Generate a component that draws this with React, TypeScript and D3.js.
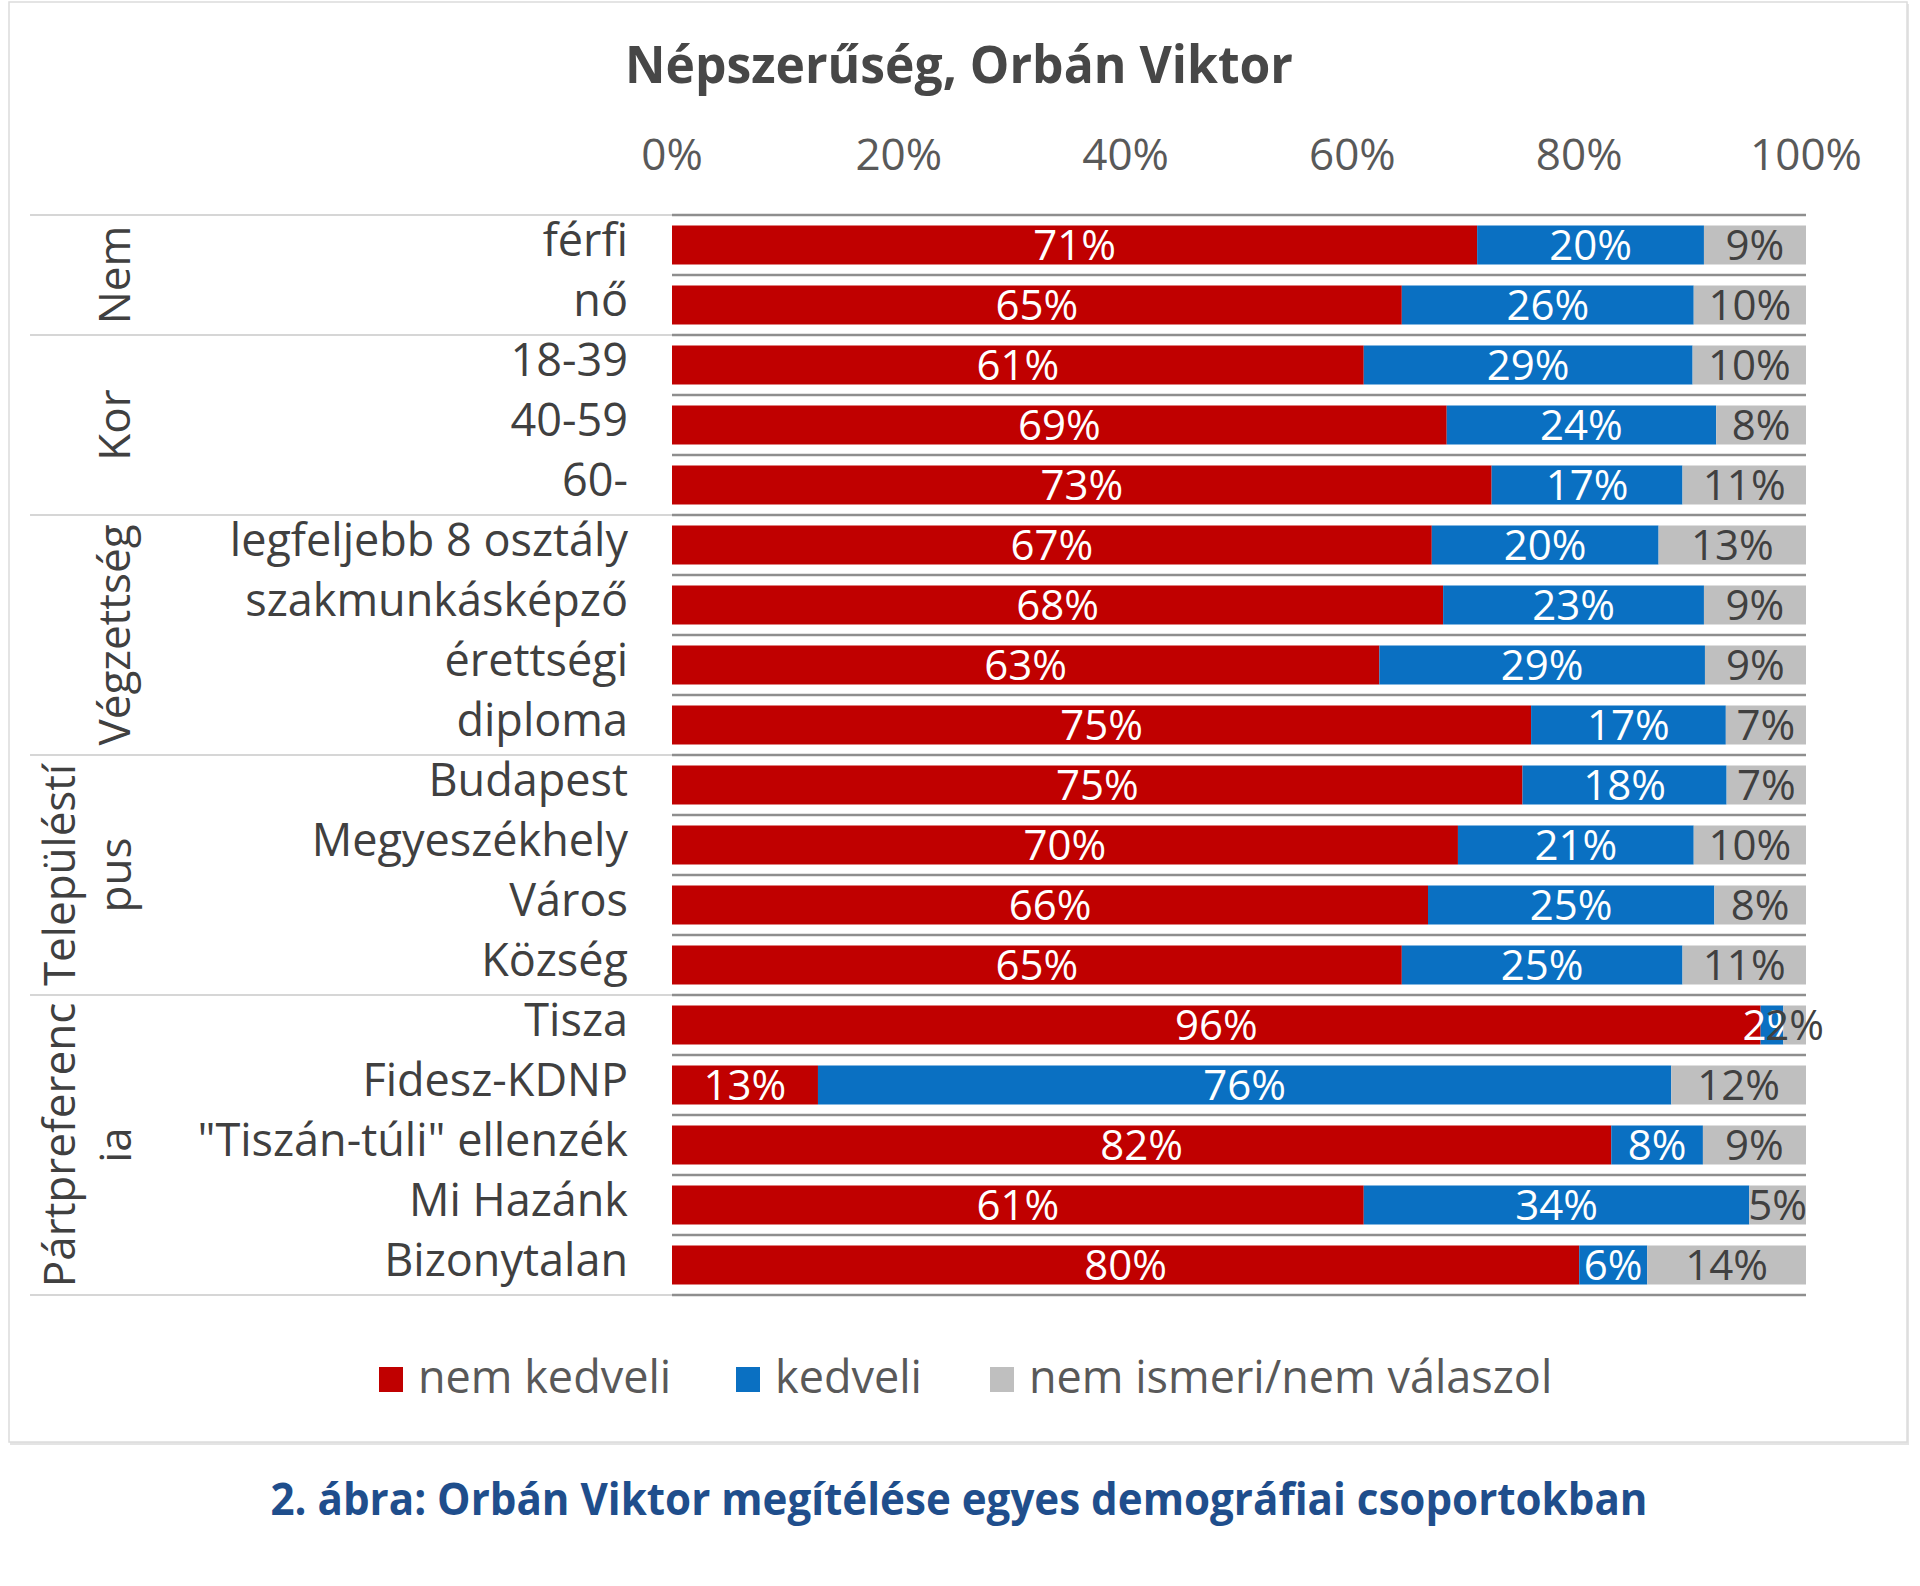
import React, { useEffect, useRef } from 'react';
import * as d3 from 'd3';

const categories = [
  'férfi', 'nő',
  '18-39', '40-59', '60-',
  'legfeljebb 8 osztály', 'szakmunkásképző', 'érettségi', 'diploma',
  'Budapest', 'Megyeszékhely', 'Város', 'Község',
  'Tisza', 'Fidesz-KDNP', '"Tiszán-túli" ellenzék', 'Mi Hazánk', 'Bizonytalan',
];
const nemKedveli = [71, 65, 61, 69, 73, 67, 68, 63, 75, 75, 70, 66, 65, 96, 13, 82, 61, 80];
const kedveli = [20, 26, 29, 24, 17, 20, 23, 29, 17, 18, 21, 25, 25, 2, 76, 8, 34, 6];
const nemIsmeri = [9, 10, 10, 8, 11, 13, 9, 9, 7, 7, 10, 8, 11, 2, 12, 9, 5, 14];

const groupNames = [['Nem'], ['Kor'], ['Végzettség'], ['Településtí', 'pus'], ['Pártpreferenc', 'ia']];
const groupSizes = [2, 3, 4, 4, 5];

const seriesNames = ['nem kedveli', 'kedveli', 'nem ismeri/nem válaszol'];
const seriesColors = ['#c00000', '#0a70c2', '#bfbfbf'];
const labelColors = ['#ffffff', '#ffffff', '#404040'];
const tickValues = [0, 0.2, 0.4, 0.6, 0.8, 1];

export default function App() {
  const svgRef = useRef<SVGSVGElement | null>(null);

  useEffect(() => {
    if (!svgRef.current) return;
    const width = 1920;
    const height = 1586;
    const font = '"Open Sans", "Noto Sans", sans-serif';

    d3.select(svgRef.current).selectAll('*').remove();
    const svg = d3.select(svgRef.current).attr('width', width).attr('height', height);

    // chart frame
    svg.append('rect').attr('x', 10).attr('y', 4).attr('width', 1899).attr('height', 1441).attr('fill', '#e4e4e4');
    svg.append('rect').attr('x', 9).attr('y', 2).attr('width', 1898).attr('height', 1440)
      .attr('fill', '#ffffff').attr('stroke', '#dcdcdc').attr('stroke-width', 1.5);

    const x = d3.scaleLinear().domain([0, 1]).range([672, 1806]);
    const y = d3.scaleBand<string>().domain(categories).range([215, 1295])
      .paddingInner(0.35).paddingOuter(0.175);
    const step = y.step();

    svg.append('text')
      .attr('x', 959).attr('y', 83)
      .attr('text-anchor', 'middle')
      .attr('textLength', 668).attr('lengthAdjust', 'spacingAndGlyphs')
      .style('font-family', font).style('font-size', '52px').style('font-weight', 'bold')
      .style('fill', '#474747')
      .text('Népszerűség, Orbán Viktor');

    // axis tick labels
    svg.append('g').selectAll('text').data(tickValues).enter().append('text')
      .attr('x', d => x(d)).attr('y', 170)
      .attr('text-anchor', 'middle')
      .style('font-family', font).style('font-size', '44px').style('fill', '#595959')
      .text(d => d3.format('.0%')(d));

    // row lines
    const rowTops = d3.range(categories.length + 1).map(i => 215 + i * step);
    svg.append('g').selectAll('line').data(rowTops).enter().append('line')
      .attr('x1', 672).attr('x2', 1806).attr('y1', d => d).attr('y2', d => d)
      .attr('stroke', '#8e8e8e').attr('stroke-width', 2.5);

    const groupStarts = groupSizes.map((s, i) => d3.sum(groupSizes.slice(0, i)));
    const groupLines = [...groupStarts, categories.length].map(i => 215 + i * step);
    svg.append('g').selectAll('line').data(groupLines).enter().append('line')
      .attr('x1', 30).attr('x2', 672).attr('y1', d => d).attr('y2', d => d)
      .attr('stroke', '#c9c9c9').attr('stroke-width', 1.5);

    // stacked bars (100%)
    const table = categories.map((c, i) => ({ cat: c, a: nemKedveli[i], b: kedveli[i], c: nemIsmeri[i] }));
    const keys = ['a', 'b', 'c'];
    const stacked = d3.stack<any>().keys(keys).offset(d3.stackOffsetExpand)(table);
    const raw = [nemKedveli, kedveli, nemIsmeri];

    stacked.forEach((layer, si) => {
      const g = svg.append('g');
      g.selectAll('rect').data(layer).enter().append('rect')
        .attr('x', d => x(d[0]))
        .attr('y', d => y(d.data.cat) as number)
        .attr('width', d => x(d[1]) - x(d[0]))
        .attr('height', y.bandwidth())
        .attr('fill', seriesColors[si]);
      g.selectAll('text').data(layer).enter().append('text')
        .attr('x', d => (x(d[0]) + x(d[1])) / 2)
        .attr('y', d => (y(d.data.cat) as number) + 34)
        .attr('text-anchor', 'middle')
        .style('font-family', font).style('font-size', '42px')
        .style('fill', labelColors[si])
        .text((d, i) => raw[si][i] + '%');
    });

    // category labels
    svg.append('g').selectAll('text').data(categories).enter().append('text')
      .attr('x', 628)
      .attr('y', d => (y(d) as number) + 30)
      .attr('text-anchor', 'end')
      .style('font-family', font).style('font-size', '45px').style('fill', '#404040')
      .text(d => d);

    // group labels (rotated)
    groupNames.forEach((lines, gi) => {
      const top = 215 + groupStarts[gi] * step;
      const cy = top + (groupSizes[gi] * step) / 2;
      const t = svg.append('text')
        .attr('transform', `translate(0,${cy}) rotate(-90)`)
        .attr('text-anchor', 'middle')
        .style('font-family', font).style('font-size', '44px').style('fill', '#404040');
      lines.forEach((ln, li) => {
        const baseX = lines.length === 1 ? 130 : (li === 0 ? 75 : 131);
        t.append('tspan').attr('x', 0).attr('y', baseX).text(ln);
      });
    });

    // legend
    const legendX = [379, 736, 990];
    const legend = svg.append('g');
    seriesNames.forEach((name, i) => {
      legend.append('rect').attr('x', legendX[i]).attr('y', 1367).attr('width', 24).attr('height', 25)
        .attr('fill', seriesColors[i]);
      legend.append('text').attr('x', legendX[i] + 39).attr('y', 1393)
        .style('font-family', font).style('font-size', '45px').style('fill', '#595959')
        .text(name);
    });

    svg.append('text')
      .attr('x', 959).attr('y', 1515)
      .attr('text-anchor', 'middle')
      .attr('textLength', 1377).attr('lengthAdjust', 'spacingAndGlyphs')
      .style('font-family', font).style('font-size', '44px').style('font-weight', 'bold')
      .style('fill', '#1f4e8c')
      .text('2. ábra: Orbán Viktor megítélése egyes demográfiai csoportokban');
  }, []);

  return (
    <div style={{ position: 'absolute', left: 0, top: 0, background: '#ffffff' }}>
      <svg ref={svgRef} style={{ display: 'block' }}></svg>
    </div>
  );
}
